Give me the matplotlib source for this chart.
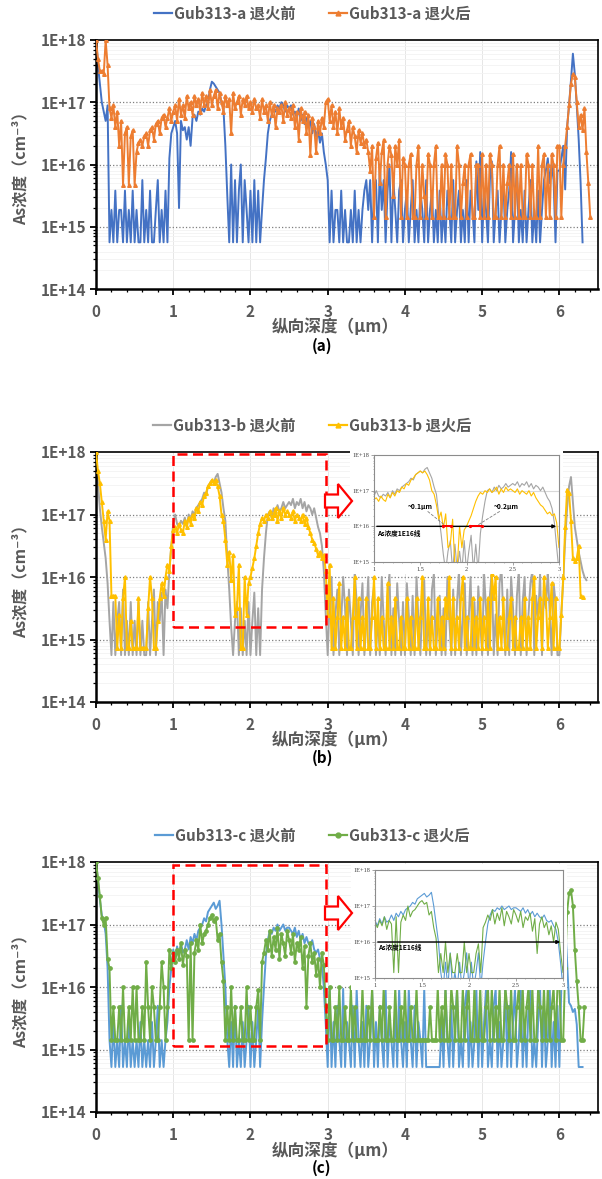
import numpy as np
import matplotlib
matplotlib.use("Agg")
import matplotlib.pyplot as plt
from matplotlib.patches import Rectangle, Polygon
from matplotlib.lines import Line2D
from matplotlib.ticker import LogLocator, MultipleLocator, NullFormatter

plt.rcParams['font.family'] = ['Noto Sans CJK SC', 'DejaVu Sans']

# depth step of the SIMS profiles (um); values below are log10(As cm^-3)
STEP = 0.025

# ---- panel (a) ----
a_before = [
    18.1, 17.6, 17.3, 17.0, 16.85, 16.7, 16.95, 14.75, 15.27, 14.75, 15.58, 14.75, 15.27, 15.27, 14.75, 15.58, 14.75, 15.27, 14.75, 15.58,
    14.75, 15.27, 14.75, 14.75, 15.75, 14.75, 15.27, 14.75, 15.58, 14.75, 14.75, 15.27, 15.75, 14.75, 15.27, 14.75, 15.58, 14.75, 16.1, 16.5,
    16.6, 16.7, 16.5, 15.3, 16.7, 16.55, 16.6, 16.4, 16.6, 16.3, 16.75, 16.8, 16.7, 16.85, 16.8, 16.9, 16.85, 16.95, 17.0, 17.2,
    17.33, 17.3, 17.25, 17.2, 17.15, 17.0, 16.9, 16.3, 15.5, 14.75, 16.0, 14.75, 15.75, 14.75, 15.58, 16.0, 14.75, 15.75, 15.27, 14.75,
    15.58, 14.75, 15.75, 14.75, 15.58, 14.75, 15.27, 15.75, 16.1, 16.5, 16.7, 16.8, 16.9, 16.85, 16.95, 16.9, 17.0, 16.95, 16.85, 16.95,
    16.9, 16.95, 16.8, 16.85, 16.75, 16.9, 16.7, 16.8, 16.65, 16.75, 16.6, 16.7, 16.5, 16.65, 16.45, 16.55, 16.35, 16.5, 16.2, 16.0,
    15.75, 14.75, 15.58, 14.75, 15.27, 15.27, 14.75, 15.58, 14.75, 15.27, 14.75, 14.75, 15.27, 14.75, 15.58, 14.75, 15.27, 14.75, 15.27, 15.58,
    15.75, 15.27, 15.75, 14.75, 15.58, 15.75, 14.75, 16.0, 15.27, 15.75, 14.75, 15.58, 16.0, 14.75, 15.75, 15.27, 14.75, 15.58, 15.75, 14.75,
    15.27, 15.58, 14.75, 15.27, 15.75, 14.75, 15.27, 14.75, 15.58, 15.27, 14.75, 15.75, 14.75, 15.27, 15.58, 14.75, 15.27, 14.75, 15.58, 14.75,
    15.27, 14.75, 15.58, 15.27, 14.75, 15.75, 14.75, 15.27, 15.58, 14.75, 15.27, 14.75, 15.75, 14.75, 15.58, 15.27, 14.75, 16.05, 15.27, 16.2,
    14.75, 15.58, 15.27, 14.75, 15.75, 16.05, 14.75, 15.27, 15.58, 14.75, 15.27, 15.75, 14.75, 15.27, 15.58, 16.2, 14.75, 15.27, 16.0, 14.75,
    15.27, 14.75, 15.58, 14.75, 15.27, 15.75, 14.75, 15.27, 14.75, 15.58, 14.75, 15.27, 15.75, 15.9, 16.1, 15.7, 16.0, 15.75, 14.75, 15.9,
    15.9, 16.1, 16.3, 15.6, 16.6, 16.95, 17.35, 17.78, 17.45, 16.95, 16.4, 15.7, 14.75,
]
a_after = [
    18.0, 17.7, 17.5, 17.5, 17.45, 18.0, 17.6, 16.9, 16.75, 16.95, 16.6, 16.85, 16.3, 16.7, 15.67, 16.5, 16.6, 15.67, 16.45, 16.55,
    15.67, 16.2, 16.35, 16.4, 16.3, 16.45, 16.5, 16.3, 16.55, 16.6, 16.4, 16.65, 16.7, 16.5, 16.75, 16.8, 16.6, 16.75, 16.9, 16.7,
    16.85, 16.95, 16.7, 17.05, 16.8, 16.95, 16.75, 17.1, 16.9, 17.0, 16.8, 17.1, 16.95, 17.05, 16.85, 17.15, 16.95, 17.1, 16.9, 17.2,
    16.95, 17.1, 17.2, 16.9, 17.15, 17.0, 16.85, 17.1, 16.95, 17.05, 16.5, 17.15, 16.9, 17.0, 17.1, 16.8, 17.05, 16.95, 17.1, 16.9,
    17.0, 16.85, 17.05, 16.9, 16.95, 16.75, 17.05, 16.85, 16.95, 16.7, 17.0, 16.8, 16.95, 16.6, 16.9, 16.85, 16.95, 16.7, 17.0, 16.8,
    16.9, 16.75, 16.95, 16.6, 16.85, 16.4, 16.9, 16.7, 16.85, 16.5, 16.8, 16.15, 16.75, 16.6, 16.2, 16.7, 16.5, 16.75, 16.6, 17.0,
    17.05, 16.7, 16.95, 16.6, 16.85, 16.5, 16.9, 16.6, 16.75, 16.4, 16.55, 16.7, 16.3, 16.6, 16.45, 16.2, 16.55, 16.35, 16.5, 16.3,
    16.4, 16.2, 15.9, 16.3, 15.15, 16.1, 16.35, 15.7, 16.2, 16.4, 15.15, 16.0, 16.3, 16.15, 15.5, 16.3, 16.0, 16.4, 15.15, 16.1,
    16.0, 15.15, 16.0, 16.17, 15.15, 15.15, 16.0, 16.3, 15.15, 16.0, 15.5, 15.15, 16.17, 16.0, 15.15, 16.0, 16.3, 15.15, 15.15, 16.0,
    15.15, 16.17, 16.0, 15.15, 16.0, 15.15, 15.15, 16.3, 16.0, 15.15, 15.7, 16.0, 15.15, 16.0, 16.17, 15.15, 15.15, 16.0, 16.0, 15.15,
    16.17, 15.15, 16.0, 15.15, 16.17, 16.0, 15.15, 15.15, 16.0, 16.3, 15.15, 16.0, 15.15, 15.7, 16.0, 15.15, 16.17, 15.15, 16.0, 15.15,
    16.0, 15.15, 15.15, 16.17, 16.0, 15.15, 16.0, 15.15, 15.15, 16.3, 15.15, 16.0, 16.17, 15.15, 16.0, 15.15, 16.17, 16.0, 15.15, 16.3,
    16.3, 15.15, 16.0, 16.3, 16.6, 16.95, 17.3, 17.45, 17.4, 17.0, 16.6, 16.8, 16.55, 16.9, 16.2, 15.7, 15.15,
]

# ---- panel (b) ----
b_before = [
    18.0, 17.5, 17.1, 16.8, 16.55, 16.3, 15.9, 15.3, 14.75, 15.6, 14.75, 15.3, 15.6, 14.75, 15.8, 14.75, 15.3, 14.75, 15.6, 14.75,
    15.3, 14.75, 15.6, 14.75, 15.3, 14.75, 14.75, 15.6, 14.75, 15.3, 15.8, 14.75, 15.6, 15.3, 15.75, 14.75, 15.8, 15.5, 16.1, 16.5,
    16.85, 17.0, 16.85, 16.8, 16.9, 16.85, 16.95, 16.8, 17.0, 16.9, 17.05, 17.0, 17.1, 17.15, 17.2, 17.25, 17.35, 17.3, 17.45, 17.5,
    17.55, 17.5, 17.6, 17.65, 17.5, 17.35, 17.1, 16.9, 16.3, 15.8, 15.2, 14.75, 15.3, 15.6, 14.75, 15.5, 14.75, 15.3, 14.75, 15.6,
    14.75, 15.3, 15.75, 14.75, 15.5, 14.75, 15.8, 16.3, 16.7, 17.0, 17.05, 16.95, 17.1, 17.0, 17.15, 17.05, 17.1, 17.2, 17.1, 17.15,
    17.2, 17.15, 17.25, 17.1, 17.2, 17.15, 17.25, 17.1, 17.2, 17.05, 17.15, 17.1, 17.0, 17.1, 16.95, 16.8, 16.7, 16.5, 16.1, 15.4,
    14.75, 15.6, 16.0, 14.75, 15.4, 15.8, 14.75, 15.3, 16.0, 15.5, 14.75, 15.8, 15.3, 14.75, 16.1, 15.6, 14.75, 15.4, 15.9, 14.75,
    15.3, 16.0, 14.75, 15.6, 15.85, 14.75, 15.4, 14.75, 16.0, 15.3, 14.75, 15.7, 16.05, 14.75, 15.5, 14.75, 15.9, 15.3, 14.75, 15.6,
    14.75, 15.9, 15.4, 14.75, 15.7, 14.75, 16.0, 15.3, 14.75, 15.6, 15.95, 14.75, 15.4, 14.75, 15.8, 16.05, 14.75, 15.3, 15.7, 14.75,
    15.5, 14.75, 16.0, 15.3, 14.75, 15.8, 14.75, 15.6, 16.1, 14.75, 15.4, 15.9, 14.75, 15.3, 16.0, 14.75, 15.6, 14.75, 15.85, 15.3,
    14.75, 16.05, 15.5, 14.75, 15.7, 16.1, 14.75, 15.4, 14.75, 15.9, 16.15, 15.3, 14.75, 15.8, 14.75, 16.0, 15.5, 14.75, 15.7, 16.1,
    14.75, 15.6, 16.0, 14.75, 15.4, 15.9, 16.1, 14.75, 15.7, 15.3, 16.05, 14.75, 15.8, 15.5, 16.1, 15.4, 14.75, 15.9, 15.6, 14.75,
    14.75, 15.4, 15.95, 16.6, 17.1, 17.45, 17.6, 17.2, 16.8, 16.6, 16.4, 16.25, 16.1, 16.0, 15.95,
]
b_after = [
    18.0, 17.7, 17.5, 17.2, 16.9, 16.6, 17.05, 16.9, 15.7, 15.7, 15.7, 14.86, 15.4, 14.86, 15.66, 16.0, 14.86, 14.86, 15.3, 14.86,
    14.86, 14.86, 15.66, 14.86, 14.86, 14.86, 14.86, 15.5, 16.0, 15.66, 14.86, 14.86, 15.3, 15.66, 15.9, 15.7, 16.0, 16.2, 16.1, 16.5,
    16.75, 16.8, 16.7, 16.85, 16.75, 16.7, 16.9, 16.8, 16.95, 16.85, 17.0, 16.95, 17.1, 17.05, 17.2, 17.15, 17.3, 17.35, 17.45, 17.5,
    17.55, 17.5, 17.55, 17.45, 17.3, 17.0, 16.9, 16.6, 16.2, 16.4, 15.95, 16.35, 15.4, 15.5, 16.2, 14.86, 14.86, 16.0, 15.4, 15.9,
    16.0, 16.15, 16.3, 16.5, 16.7, 16.85, 16.95, 16.9, 17.0, 16.95, 17.05, 16.95, 17.0, 17.1, 16.9, 17.05, 16.95, 17.1, 17.0, 17.05,
    17.0, 16.95, 17.05, 16.9, 17.0, 16.95, 16.9, 17.0, 16.85, 16.95, 16.8, 16.7, 16.6, 16.55, 16.45, 16.35, 16.4, 16.3, 16.35, 16.1,
    15.4, 16.2, 14.86, 15.66, 14.86, 15.36, 15.9, 14.86, 15.36, 14.86, 15.66, 14.86, 14.86, 15.36, 16.0, 14.86, 15.66, 14.86, 15.36, 14.86,
    15.66, 14.86, 14.86, 15.36, 16.0, 14.86, 15.66, 14.86, 15.36, 14.86, 14.86, 15.9, 14.86, 15.36, 14.86, 15.66, 14.86, 14.86, 15.36, 14.86,
    14.86, 15.66, 14.86, 15.36, 14.86, 14.86, 15.66, 14.86, 15.36, 16.0, 14.86, 14.86, 15.66, 14.86, 15.36, 14.86, 14.86, 15.66, 14.86, 15.36,
    14.86, 15.66, 15.36, 16.0, 14.86, 15.66, 14.86, 15.36, 14.86, 15.66, 16.0, 14.86, 15.36, 14.86, 14.86, 15.66, 14.86, 15.36, 14.86, 15.66,
    14.86, 15.36, 14.86, 15.66, 14.86, 16.05, 15.66, 16.0, 14.86, 15.36, 14.86, 15.66, 14.86, 14.86, 15.36, 15.66, 14.86, 15.36, 14.86, 14.86,
    15.36, 14.86, 15.66, 14.86, 15.36, 14.86, 15.66, 16.0, 14.86, 15.36, 15.66, 14.86, 16.0, 15.66, 14.86, 15.36, 15.9, 14.86, 15.66, 14.86,
    14.86, 15.4, 16.0, 16.8, 17.4, 17.35, 16.9, 16.3, 16.25, 16.3, 16.5, 15.7, 15.68,
]

# ---- panel (c) ----
c_before = [
    18.0, 17.7, 17.4, 17.15, 17.05, 16.85, 16.3, 15.15, 14.72, 15.44, 14.72, 15.15, 14.72, 15.7, 14.72, 15.15, 14.72, 15.44, 14.72, 15.15,
    14.72, 15.15, 14.72, 15.44, 14.72, 15.15, 14.72, 15.15, 14.72, 15.44, 14.72, 15.15, 15.7, 14.72, 15.15, 14.72, 15.15, 15.44, 16.0, 16.3,
    16.6, 16.45, 16.65, 16.5, 16.7, 16.55, 16.6, 16.75, 16.6, 16.8, 16.7, 16.85, 16.75, 16.9, 16.95, 17.0, 17.1, 17.05, 17.2, 17.25,
    17.3, 17.35, 17.25, 17.3, 17.38, 17.0, 16.5, 16.0, 15.15, 14.72, 15.44, 14.72, 15.7, 14.72, 15.15, 14.72, 15.44, 14.72, 15.15, 15.7,
    14.72, 15.44, 14.72, 15.15, 15.7, 14.72, 15.44, 16.0, 16.5, 16.75, 16.9, 16.85, 16.95, 16.9, 17.0, 16.9, 16.95, 17.0, 16.9, 16.95,
    16.95, 16.9, 16.85, 16.95, 16.8, 16.9, 16.75, 16.85, 16.7, 16.8, 16.7, 16.65, 16.75, 16.6, 16.55, 16.6, 16.45, 16.35, 16.0, 15.4,
    14.72, 15.97, 14.72, 15.44, 14.72, 15.7, 15.15, 14.72, 15.97, 14.72, 15.44, 15.15, 14.72, 15.7, 14.72, 15.97, 15.15, 14.72, 15.44, 14.72,
    15.7, 14.72, 15.15, 15.97, 14.72, 15.44, 14.72, 15.7, 15.15, 14.72, 15.97, 14.72, 15.44, 15.15, 14.72, 15.7, 14.72, 15.97, 15.15, 14.72,
    15.44, 14.72, 15.97, 15.15, 14.72, 15.7, 14.72, 15.44, 15.15, 14.72, 15.97, 14.72, 14.72, 14.72, 14.72, 14.72, 14.72, 14.72, 14.72, 15.44,
    14.72, 15.97, 15.15, 14.72, 15.7, 14.72, 15.44, 15.97, 14.72, 15.15, 14.72, 15.7, 15.97, 14.72, 15.44, 14.72, 15.15, 15.97, 14.72, 15.7,
    14.72, 15.44, 15.97, 14.72, 15.15, 14.72, 15.7, 15.97, 14.72, 15.44, 14.72, 15.15, 15.97, 14.72, 15.7, 14.72, 15.44, 15.97, 14.72, 15.15,
    15.97, 14.72, 15.44, 14.72, 15.7, 15.97, 14.72, 15.15, 14.72, 15.44, 15.97, 14.72, 15.7, 14.72, 15.15, 15.97, 14.72, 15.44, 14.72, 15.7,
    14.72, 16.0, 17.55, 17.0, 16.4, 15.75, 15.7, 15.6, 15.65, 15.4, 14.72, 14.72, 14.72,
]
c_after = [
    18.0, 17.75, 17.45, 17.1, 17.0, 17.1, 16.45, 16.3, 15.15, 15.68, 15.15, 15.15, 15.68, 15.15, 16.0, 15.15, 15.15, 15.68, 15.15, 16.0,
    15.15, 16.0, 15.15, 15.15, 15.68, 15.15, 16.4, 15.68, 15.15, 16.0, 15.68, 15.15, 15.15, 15.68, 16.4, 16.0, 15.15, 15.68, 16.6, 16.3,
    16.55, 16.4, 16.6, 16.45, 16.7, 16.35, 16.6, 16.5, 15.15, 16.7, 15.15, 16.55, 16.75, 16.6, 17.0, 16.7, 16.85, 16.9, 17.0, 17.1,
    17.15, 17.05, 17.1, 16.75, 16.85, 16.4, 16.1, 15.15, 15.68, 15.15, 16.0, 15.15, 15.68, 15.15, 15.15, 15.68, 15.15, 15.15, 16.0, 15.15,
    15.68, 15.15, 15.15, 15.68, 15.95, 15.15, 16.4, 16.55, 16.75, 16.6, 16.9, 16.5, 16.8, 16.6, 16.95, 16.45, 16.85, 16.7, 16.5, 16.9,
    16.75, 16.55, 16.85, 16.4, 16.7, 16.6, 16.8, 16.3, 16.65, 15.68, 16.5, 16.7, 16.4, 16.55, 16.2, 16.45, 16.0, 16.55, 16.35, 15.7,
    15.15, 16.0, 15.15, 15.15, 15.68, 15.15, 16.0, 15.15, 15.15, 15.68, 15.15, 15.15, 16.0, 15.15, 15.68, 15.15, 15.15, 15.15, 16.0, 15.15,
    15.15, 15.68, 15.15, 16.0, 15.15, 15.15, 15.15, 15.68, 15.15, 16.0, 15.15, 15.15, 15.68, 15.15, 15.15, 16.0, 15.15, 15.15, 15.68, 15.15,
    16.0, 15.15, 15.15, 15.68, 15.15, 15.15, 16.0, 15.15, 15.15, 15.15, 15.15, 15.15, 15.15, 15.68, 15.15, 15.15, 15.15, 16.0, 15.15, 15.68,
    15.15, 16.0, 15.15, 15.15, 16.0, 15.68, 15.15, 16.0, 15.15, 15.15, 16.0, 15.15, 15.68, 16.0, 15.15, 15.15, 16.0, 15.15, 15.15, 16.0,
    15.15, 15.15, 15.68, 16.0, 15.15, 16.0, 15.15, 15.68, 15.15, 16.0, 15.15, 15.15, 16.0, 15.68, 15.15, 16.0, 15.15, 15.15, 15.68, 16.0,
    15.15, 16.0, 15.15, 15.68, 16.0, 15.15, 16.0, 15.15, 15.15, 16.0, 15.68, 15.15, 16.0, 15.15, 16.0, 15.15, 15.68, 16.0, 15.15, 16.0,
    16.0, 15.15, 15.15, 16.3, 17.2, 17.5, 17.55, 17.3, 16.6, 16.1, 15.68, 15.15, 15.15, 15.68,
]

labels_a = ['Gub313-a 退火前', 'Gub313-a 退火后']
labels_b = ['Gub313-b 退火前', 'Gub313-b 退火后']
labels_c = ['Gub313-c 退火前', 'Gub313-c 退火后']
ytick_vals = [1e14, 1e15, 1e16, 1e17, 1e18]
ytick_text = ['1E+14', '1E+15', '1E+16', '1E+17', '1E+18']
inset_ytext = ['1E+15', '1E+16', '1E+17', '1E+18']
inset_xticks = [1, 1.5, 2, 2.5, 3]

GRAY = '#595959'
W, H = 602, 1179


def depth(vals):
    return np.arange(len(vals)) * STEP


def conc(vals):
    return 10.0 ** np.array(vals)


def fx(px):
    return px / W


def fy(py):
    return 1 - py / H


def style_main(ax):
    ax.set_yscale('log')
    ax.set_xlim(0, 6.5)
    ax.set_ylim(1e14, 1e18)
    ax.set_yticks(ytick_vals)
    ax.set_yticklabels(ytick_text)
    ax.yaxis.set_minor_locator(LogLocator(base=10, subs=np.arange(2, 10)))
    ax.yaxis.set_minor_formatter(NullFormatter())
    ax.set_xticks(range(7))
    ax.xaxis.set_minor_locator(MultipleLocator(0.2))
    ax.tick_params(which='both', direction='out', color='black')
    ax.tick_params(axis='y', which='major', length=4, width=1.3, labelsize=11, labelcolor=GRAY, pad=3)
    ax.tick_params(axis='x', which='major', length=4, width=1.3, labelsize=11, labelcolor=GRAY, pad=7)
    ax.tick_params(which='minor', length=2.5, width=0.9)
    for lab in ax.get_xticklabels() + ax.get_yticklabels():
        lab.set_fontweight('bold')
    ax.set_axisbelow(True)
    ax.grid(which='minor', axis='y', color='#F2F2F2', lw=0.6)
    ax.grid(which='major', axis='x', color='#E6E6E6', lw=0.7)
    for v in [1e15, 1e16, 1e17]:
        ax.axhline(v, color='#7F7F7F', ls=':', lw=0.9, zorder=1)
    for s in ax.spines.values():
        s.set_color('black')
        s.set_linewidth(1.2)
    ax.spines['left'].set_linewidth(1.8)
    ax.spines['bottom'].set_linewidth(1.8)


def panel_text(y_top, y_bot, xlab_y, tag_y, tag):
    fig.text(fx(20), fy((y_top + y_bot) / 2), 'As浓度（cm⁻³）', rotation=90, ha='center', va='center',
             fontsize=11.5, fontweight='bold', color=GRAY)
    fig.text(fx(335), fy(xlab_y), '纵向深度（μm）', ha='center', va='center',
             fontsize=12, fontweight='bold', color=GRAY)
    fig.text(fx(322), fy(tag_y), tag, ha='center', va='center',
             fontsize=11, fontweight='bold', color='black')


def add_legend(ax, labels, c1, c2, mk):
    h1 = Line2D([], [], color=c1, lw=1.6)
    h2 = Line2D([], [], color=c2, lw=1.6, marker=mk, ms=3.5)
    leg = ax.legend([h1, h2], labels, loc='lower center', bbox_to_anchor=(0.43, 1.02), ncol=2,
                    frameon=False, handlelength=1.2, handletextpad=0.1, columnspacing=2.2,
                    prop={'weight': 'bold', 'size': 11})
    for t in leg.get_texts():
        t.set_color(GRAY)


def red_arrow(cy):
    pts = [(325, cy - 6.5), (338, cy - 6.5), (338, cy - 17), (352, cy),
           (338, cy + 17), (338, cy + 6.5), (325, cy + 6.5)]
    fig.patches.append(Polygon([(fx(x), fy(y)) for x, y in pts], closed=True, transform=fig.transFigure,
                               facecolor='white', edgecolor='#FF0000', lw=1.6, zorder=4))


def make_inset(rect_px, before, after, c1, c2):
    x0, y0, x1, y1 = rect_px
    fig.patches.append(Rectangle((fx(x0 - 24), fy(y1 + 12)), (x1 - x0 + 28) / W, (y1 - y0 + 18) / H,
                                 transform=fig.transFigure, facecolor='white', edgecolor='none', zorder=2))
    ins = fig.add_axes([fx(x0), fy(y1), (x1 - x0) / W, (y1 - y0) / H])
    ins.set_zorder(3)
    ins.set_yscale('log')
    ins.set_xlim(1, 3)
    ins.set_ylim(1e15, 1e18)
    d1, d2 = depth(before), depth(after)
    ins.plot(d1, conc(before), color=c1, lw=0.8)
    ins.plot(d2, conc(after), color=c2, lw=0.8)
    ins.set_yticks([1e15, 1e16, 1e17, 1e18])
    ins.set_yticklabels(inset_ytext)
    ins.yaxis.set_minor_locator(LogLocator(base=10, subs=np.arange(2, 10)))
    ins.yaxis.set_minor_formatter(NullFormatter())
    ins.set_xticks(inset_xticks)
    ins.set_xticklabels(['1', '1.5', '2', '2.5', '3'])
    ins.xaxis.set_minor_locator(MultipleLocator(0.1))
    ins.tick_params(which='both', direction='out', color='#808080', labelsize=4.5, labelcolor='#404040', pad=1.5)
    ins.tick_params(which='major', length=2, width=0.5)
    ins.tick_params(which='minor', length=1, width=0.4)
    for lab in ins.get_xticklabels() + ins.get_yticklabels():
        lab.set_family('Liberation Serif')
    for v in [1e16, 1e17]:
        ins.axhline(v, color='#D9D9D9', lw=0.8, zorder=0)
    for s in ins.spines.values():
        s.set_color('#8C8C8C')
        s.set_linewidth(0.8)
    ins.annotate('', xy=(3.0, 1e16), xytext=(1.0, 1e16),
                 arrowprops=dict(arrowstyle='-|>', color='black', lw=1.0, mutation_scale=5))
    return ins


fig = plt.figure(figsize=(6.02, 11.79), dpi=100)

# (top_px, bottom_px) of each plot area
panels = [(40, 289), (452, 702), (862, 1112)]
axes = []
for top, bot in panels:
    axes.append(fig.add_axes([fx(96), fy(bot), 502 / W, (bot - top) / H]))

# ---- (a) ----
ax = axes[0]
style_main(ax)
ax.plot(depth(a_before), conc(a_before), color='#4472C4', lw=1.4, zorder=2)
ax.plot(depth(a_after), conc(a_after), color='#ED7D31', lw=1.4, marker='^', ms=2.6, zorder=3)
add_legend(ax, labels_a, '#4472C4', '#ED7D31', '^')
panel_text(40, 289, 327, 346, '(a)')

# ---- (b) ----
ax = axes[1]
style_main(ax)
ax.plot(depth(b_before), conc(b_before), color='#A5A5A5', lw=1.4, zorder=2)
ax.plot(depth(b_after), conc(b_after), color='#FFC000', lw=1.4, marker='^', ms=2.6, zorder=3)
ax.add_patch(Rectangle((1.0, 10 ** 15.2), 1.975, 10 ** 17.97 - 10 ** 15.2, fill=False,
                       edgecolor='#FF0000', ls=(0, (4, 2.2)), lw=1.8, zorder=5))
add_legend(ax, labels_b, '#A5A5A5', '#FFC000', '^')
panel_text(452, 702, 740, 758, '(b)')
red_arrow(501)
ins = make_inset((374, 455, 559, 562), b_before, b_after, '#A5A5A5', '#FFC000')
ins.plot([1.75, 1.83], [1e16, 1e16], color='#FF0000', lw=1.4, marker='o', ms=1.3, zorder=5)
ins.plot([2.04, 2.17], [1e16, 1e16], color='#FF0000', lw=1.4, marker='o', ms=1.3, zorder=5)
ins.plot([1.58, 1.78], [10 ** 16.42, 1e16], color='#7F7F7F', ls='--', lw=0.6)
ins.plot([2.36, 2.1], [10 ** 16.42, 1e16], color='#7F7F7F', ls='--', lw=0.6)
ins.text(1.5, 10 ** 16.55, '~0.1μm', fontsize=4.8, fontweight='bold', ha='center', va='center')
ins.text(2.43, 10 ** 16.55, '~0.2μm', fontsize=4.8, fontweight='bold', ha='center', va='center')
ins.text(1.03, 10 ** 15.8, 'As浓度1E16线', fontsize=4.8, fontweight='bold', ha='left', va='center')

# ---- (c) ----
ax = axes[2]
style_main(ax)
ax.plot(depth(c_before), conc(c_before), color='#5B9BD5', lw=1.4, zorder=2)
ax.plot(depth(c_after), conc(c_after), color='#70AD47', lw=1.4, marker='o', ms=2.4, zorder=3)
ax.add_patch(Rectangle((1.0, 10 ** 15.05), 1.975, 10 ** 17.955 - 10 ** 15.05, fill=False,
                       edgecolor='#FF0000', ls=(0, (4, 2.2)), lw=1.8, zorder=5))
add_legend(ax, labels_c, '#5B9BD5', '#70AD47', 'o')
panel_text(862, 1112, 1151, 1168, '(c)')
red_arrow(913)
ins = make_inset((375, 870, 563, 978), c_before, c_after, '#5B9BD5', '#70AD47')
ins.text(1.03, 10 ** 15.85, 'As浓度1E16线', fontsize=4.8, fontweight='bold', ha='left', va='center')

fig.savefig('out.png', dpi=100)
